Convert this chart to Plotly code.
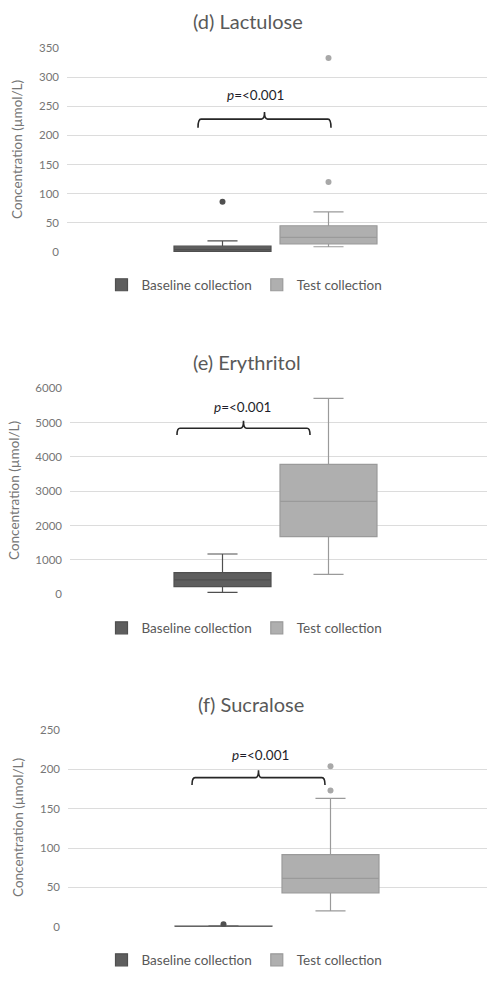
import plotly.graph_objects as go

# ---------------- data ----------------
categories = ["Baseline collection", "Test collection"]

lac_q1 = [0.5, 14]
lac_median = [4, 25]
lac_q3 = [10, 45]
lac_lower = [0, 9]
lac_upper = [19, 69]
lac_out_base = [86]
lac_out_test = [120, 333]

ery_q1 = [221, 1678]
ery_median = [420, 2709]
ery_q3 = [629, 3786]
ery_lower = [58, 583]
ery_upper = [1174, 5709]
ery_out_base = []
ery_out_test = []

suc_q1 = [0, 43]
suc_median = [0.3, 61.5]
suc_q3 = [0.8, 91.5]
suc_lower = [0, 20]
suc_upper = [1, 163]
suc_out_base = [3]
suc_out_test = [173, 204]

titles = ["(d) Lactulose", "(e) Erythritol", "(f) Sucralose"]
y_title = "Concentration (µmol/L)"
p_label = "<i>p</i>=&lt;0.001"

# ---------------- styling ----------------
FONT = "Lato, 'Open Sans', sans-serif"
W, H = 489, 983
box_fill = ["#5e5e5e", "#afafaf"]
box_line = ["#4f4f4f", "#9a9a9a"]
out_color = ["#505050", "#a8a8a8"]
grid = "#dcdcdc"
txt = "#595959"
tick_txt = "#767676"

def fy(px):
    return 1 - px / H

def fx(px):
    return px / W

panels = [
    dict(q1=lac_q1, med=lac_median, q3=lac_q3, lo=lac_lower, hi=lac_upper,
         ob=lac_out_base, ot=lac_out_test, dtick=50, yr=[0, 350],
         left=67, top=48, bottom=252, cb=222.5, ct=328.5,
         title_y=21, title_x=248, ytitle_x=17, ytitle_y=150, legend_y=285,
         brace=(198, 331, 228, 213, 240), p=(255, 269)),
    dict(q1=ery_q1, med=ery_median, q3=ery_q3, lo=ery_lower, hi=ery_upper,
         ob=ery_out_base, ot=ery_out_test, dtick=1000, yr=[0, 6000],
         left=70, top=388.3, bottom=594.3, cb=222.5, ct=328.5,
         title_y=362, title_x=247, ytitle_x=14, ytitle_y=491, legend_y=628,
         brace=(177, 310, 4835, 4640, 5056), p=(242, 5464)),
    dict(q1=suc_q1, med=suc_median, q3=suc_q3, lo=suc_lower, hi=suc_upper,
         ob=suc_out_base, ot=suc_out_test, dtick=50, yr=[0, 250],
         left=68, top=730, bottom=926.7, cb=223.5, ct=330.5,
         title_y=704, title_x=251, ytitle_x=18, ytitle_y=828, legend_y=960,
         brace=(192, 325, 189.5, 180, 199), p=(260, 218)),
]

fig = go.Figure()
shapes = []
annotations = []
RIGHT = 487

for i, pn in enumerate(panels):
    sfx = "" if i == 0 else str(i + 1)
    xa, ya = "x" + sfx, "y" + sfx
    leg = "legend" + sfx
    unit = pn["ct"] - pn["cb"]
    box_w = 97 / unit

    for j, cat in enumerate(categories):
        fig.add_trace(go.Box(
            x=[cat], q1=[pn["q1"][j]], median=[pn["med"][j]], q3=[pn["q3"][j]],
            lowerfence=[pn["lo"][j]], upperfence=[pn["hi"][j]],
            name=cat, width=box_w, whiskerwidth=0.31,
            fillcolor=box_fill[j], line=dict(color=box_line[j], width=1.2),
            boxpoints=False, xaxis=xa, yaxis=ya, legend=leg, showlegend=True,
            hoverinfo="skip",
        ))
        outs = pn["ob"] if j == 0 else pn["ot"]
        if outs:
            fig.add_trace(go.Scatter(
                x=[cat] * len(outs), y=outs, mode="markers",
                marker=dict(size=6, color=out_color[j]),
                xaxis=xa, yaxis=ya, showlegend=False, hoverinfo="skip",
            ))

    xr = [-(pn["cb"] - pn["left"]) / unit, 1 + (RIGHT - pn["ct"]) / unit]
    fig.update_layout(**{
        "xaxis" + sfx: dict(
            domain=[fx(pn["left"]), fx(RIGHT)], anchor=ya, type="category",
            categoryorder="array", categoryarray=categories, range=xr,
            showgrid=False, showticklabels=False, zeroline=False, showline=False,
            fixedrange=True,
        ),
        "yaxis" + sfx: dict(
            domain=[fy(pn["bottom"]), fy(pn["top"])], anchor=xa, range=pn["yr"],
            dtick=pn["dtick"], tick0=0, showgrid=True, gridcolor=grid, gridwidth=1,
            zeroline=False, showline=False, ticks="", ticklabelstandoff=7,
            tickfont=dict(family=FONT, size=11.5, color=tick_txt), automargin=False,
        ),
        leg: dict(
            orientation="h", x=0.50, xanchor="center", y=fy(pn["legend_y"]),
            yanchor="middle", font=dict(family=FONT, size=13.5, color=txt),
            bgcolor="rgba(0,0,0,0)", itemclick=False, itemdoubleclick=False,
        ),
    })

    # brace (p-value bracket)
    bx0, bx1, yl, yt, yp = pn["brace"]
    x0 = (bx0 - pn["cb"]) / unit
    x1 = (bx1 - pn["cb"]) / unit
    xc = (x0 + x1) / 2
    dx = 3 / unit
    path = (f"M{x0},{yt} Q{x0},{yl} {x0+dx},{yl} L{xc-dx},{yl} "
            f"Q{xc},{yl} {xc},{yp} Q{xc},{yl} {xc+dx},{yl} "
            f"L{x1-dx},{yl} Q{x1},{yl} {x1},{yt}")
    shapes.append(dict(type="path", path=path, xref=xa, yref=ya,
                       line=dict(color="#262626", width=1.6)))

    px_, py_ = pn["p"]
    annotations.append(dict(
        x=(px_ - pn["cb"]) / unit, y=py_, xref=xa, yref=ya, text=p_label,
        showarrow=False, font=dict(family=FONT, size=13.5, color="#1e1e2a"),
        xanchor="center", yanchor="middle",
    ))
    annotations.append(dict(
        x=fx(pn["title_x"]), y=fy(pn["title_y"]), xref="paper", yref="paper",
        text=titles[i], showarrow=False, xanchor="center", yanchor="middle",
        font=dict(family=FONT, size=20, color=txt),
    ))
    annotations.append(dict(
        x=fx(pn["ytitle_x"]), y=fy(pn["ytitle_y"]), xref="paper", yref="paper",
        text=y_title, showarrow=False, textangle=-90, xanchor="center",
        yanchor="middle", font=dict(family=FONT, size=13.5, color=tick_txt),
    ))

fig.update_layout(
    width=W, height=H, margin=dict(l=0, r=0, t=0, b=0),
    paper_bgcolor="white", plot_bgcolor="white",
    boxmode="overlay", shapes=shapes, annotations=annotations,
    font=dict(family=FONT, color=txt),
)

fig.write_html(
    "out.html",
    config={"displayModeBar": False},
    post_script="document.body.style.margin='0';document.body.style.overflow='hidden';",
)
